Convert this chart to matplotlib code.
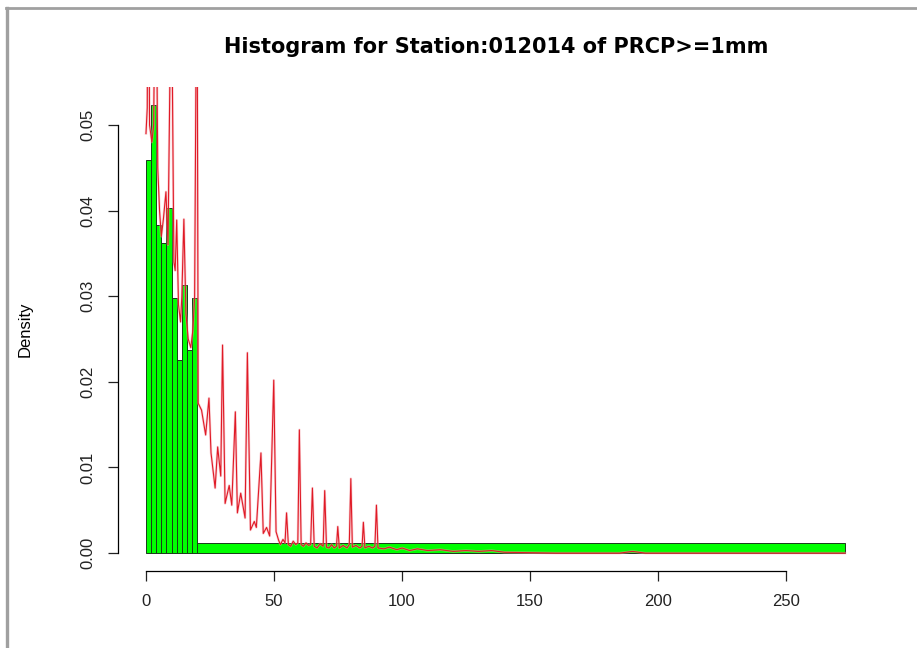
import matplotlib
matplotlib.use("Agg")
import matplotlib.pyplot as plt
from matplotlib.lines import Line2D

plt.rcParams["font.family"] = ["Liberation Sans", "DejaVu Sans"]

# histogram (density) bins
bin_edges = [0, 2, 4, 6, 8, 10, 12, 14, 16, 18, 20, 273]
bin_density = [0.0459, 0.0523, 0.0383, 0.0362, 0.0403, 0.0298,
               0.0225, 0.0313, 0.0237, 0.0298, 0.0012]

# red density curve
dens_x = [
    0.0, 0.5, 0.9, 1.4, 2.3, 3.0, 3.8, 4.6, 5.3, 6.0, 6.8, 7.8, 8.6, 9.9,
    10.9, 11.4, 12.0, 12.7, 13.5, 14.0, 14.8, 15.6, 16.5, 17.5, 18.3, 19.0,
    19.9, 20.4, 21.7, 23.3, 24.6, 25.4, 27.0, 28.0, 29.2, 29.9, 30.9, 32.5,
    33.5, 34.9, 35.7, 37.0, 38.7, 39.6, 40.8, 42.3, 43.1, 44.9, 45.8, 47.1,
    48.3, 49.9, 50.8, 51.8, 52.5, 53.5, 54.3, 54.9, 55.6, 56.5, 57.5, 58.5,
    59.3, 59.9, 60.6, 61.5, 62.5, 63.5, 64.3, 65.0, 65.7, 66.8, 68.0, 69.2,
    69.8, 70.5, 71.5, 72.5, 73.5, 74.4, 74.9, 75.5, 77.0, 78.5, 79.4, 80.0,
    80.6, 82.0, 83.5, 84.4, 84.9, 85.5, 87.0, 88.5, 89.4, 90.0, 90.6,
    93.0, 95.0, 98.0, 100.0, 103.0, 106.0, 110.0, 115.0, 120.0, 125.0,
    130.0, 135.0, 140.0, 150.0, 160.0, 185.0, 190.0, 195.0, 273.0,
]
dens_y = [
    0.0490, 0.0520, 0.0800, 0.0500, 0.0480, 0.0500, 0.0750, 0.0450, 0.0400,
    0.0370, 0.0390, 0.0422, 0.0360, 0.0700, 0.0340, 0.0330, 0.0389, 0.0290,
    0.0270, 0.0300, 0.0390, 0.0280, 0.0250, 0.0240, 0.0260, 0.0300, 0.0750,
    0.0175, 0.0167, 0.0138, 0.0181, 0.0117, 0.0076, 0.0124, 0.0090, 0.0243,
    0.0058, 0.0079, 0.0056, 0.0165, 0.0047, 0.0070, 0.0041, 0.0234, 0.0027,
    0.0037, 0.0030, 0.0117, 0.0023, 0.0030, 0.0020, 0.0202, 0.0025, 0.0015,
    0.0010, 0.0016, 0.0012, 0.0047, 0.0010, 0.0008, 0.0014, 0.0010, 0.0012,
    0.0144, 0.0010, 0.0008, 0.0012, 0.0009, 0.0010, 0.0076, 0.0008, 0.0006,
    0.0011, 0.0008, 0.0073, 0.0007, 0.0006, 0.0010, 0.0006, 0.0008, 0.0031,
    0.0006, 0.0009, 0.0006, 0.0010, 0.0087, 0.0007, 0.0009, 0.0006, 0.0008,
    0.0036, 0.0006, 0.0008, 0.0006, 0.0008, 0.0056, 0.0006, 0.0005, 0.0007,
    0.0004, 0.0006, 0.0003, 0.0005, 0.0003, 0.0004, 0.0002, 0.0003, 0.0002,
    0.0003, 0.0001, 0.00005, 0.0, 0.0, 0.0002, 0.0, 0.0,
]

x_ticks = [0, 50, 100, 150, 200, 250]
y_ticks = [0.00, 0.01, 0.02, 0.03, 0.04, 0.05]
y_tick_labels = ["0.00", "0.01", "0.02", "0.03", "0.04", "0.05"]
title = "Histogram for Station:012014 of PRCP>=1mm"


def main():
    fig = plt.figure(figsize=(9.17, 6.48), dpi=100)
    ax = fig.add_axes([0.1287, 0.1188, 0.8233, 0.7463])

    widths = [bin_edges[i + 1] - bin_edges[i] for i in range(len(bin_density))]
    ax.bar(bin_edges[:-1], bin_density, width=widths, align="edge",
           color="#00ff00", edgecolor="#1a3a1a", linewidth=0.7)

    # faint pink halo under the thin red line, like the screenshot
    ax.plot(dens_x, dens_y, color="#f5a3ab", linewidth=1.8, alpha=0.5)
    ax.plot(dens_x, dens_y, color="#e01a26", linewidth=0.8)

    ax.set_xlim(-10.92, 283.92)
    ax.set_ylim(-0.00209, 0.05439)

    for side in ["top", "right"]:
        ax.spines[side].set_visible(False)
    ax.spines["left"].set_bounds(0, 0.05)
    ax.spines["bottom"].set_bounds(0, 250)
    for side in ["left", "bottom"]:
        ax.spines[side].set_linewidth(0.9)

    ax.set_xticks(x_ticks)
    ax.set_yticks(y_ticks)
    ax.set_yticklabels(y_tick_labels, rotation=90, va="center")
    ax.tick_params(axis="both", length=7.5, width=0.9, pad=9,
                   labelsize=12, colors="#222222")

    ax.set_ylabel("Density", fontsize=12, labelpad=34)
    fig.text(0.541, 0.927, title, ha="center", va="center",
             fontsize=15, fontweight="bold", family="DejaVu Sans")

    # grey window border seen at the top and left of the screenshot
    fig.add_artist(Line2D([0.006, 1.0], [0.9877, 0.9877], color="#a0a0a0",
                          linewidth=2, transform=fig.transFigure))
    fig.add_artist(Line2D([0.0072, 0.0072], [0.0, 0.9877], color="#a0a0a0",
                          linewidth=2.4, transform=fig.transFigure))

    fig.savefig("out.png", dpi=100)
    plt.close(fig)


if __name__ == "__main__":
    main()
